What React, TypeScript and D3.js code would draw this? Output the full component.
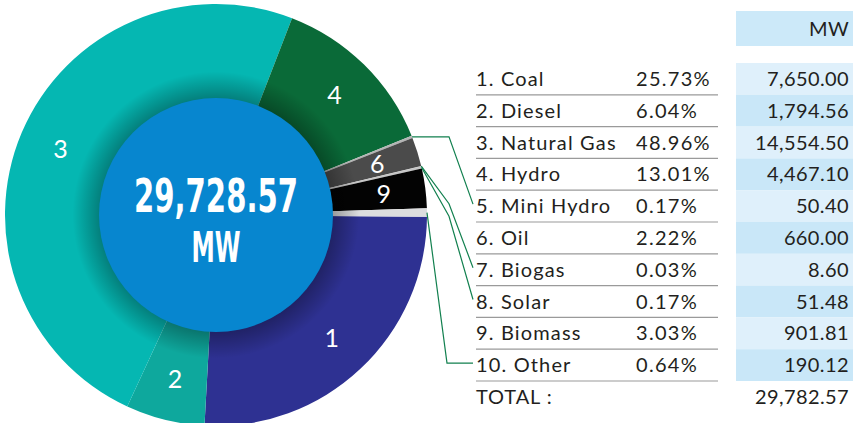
import React, { useEffect, useRef } from 'react'
import * as d3 from 'd3'

// energy mix data
const sources = ['Coal', 'Diesel', 'Natural Gas', 'Hydro', 'Mini Hydro', 'Oil', 'Biogas', 'Solar', 'Biomass', 'Other']
const shares = [25.73, 6.04, 48.96, 13.01, 0.17, 2.22, 0.03, 0.17, 3.03, 0.64]
const capacityMW = [7650.0, 1794.56, 14554.5, 4467.1, 50.4, 660.0, 8.6, 51.48, 901.81, 190.12]
const tableTotal = 29782.57
const centerTotal = 29728.57
const sliceColors = ['#2e3192', '#0ea89d', '#05b7b2', '#0a6a38', '#b4b4b4', '#4b4b4b', '#8c8c8c', '#c6c6c6', '#030303', '#dcdddf']
// which slices get a number inside, which get a leader line to the table
const labelled = [1, 2, 3, 4, 6, 9]
const leaders = [5, 7, 8, 10]

const W = 853
const H = 423

const App = () => {
  const node = useRef<SVGSVGElement | null>(null)

  useEffect(() => {
    const svg = d3.select(node.current)
    svg.selectAll('*').remove()

    const cx = 216, cy = 215
    const outerR = 211, innerR = 108, holeR = 117
    const startA = (90.5 * Math.PI) / 180

    const pie = d3.pie<number>().sort(null).value(d => d)
      .startAngle(startA).endAngle(startA + 2 * Math.PI)
    const arcs = pie(shares)
    const arc = d3.arc<d3.PieArcDatum<number>>().innerRadius(innerR).outerRadius(outerR)

    const defs = svg.append('defs')
    // gradient lives in the translated group's space, so centre it at 0,0
    const shade = defs.append('radialGradient').attr('id', 'shade')
      .attr('gradientUnits', 'userSpaceOnUse')
      .attr('cx', 0).attr('cy', 0).attr('r', outerR)
    shade.append('stop').attr('offset', 0).attr('stop-color', '#000').attr('stop-opacity', 0.35)
    shade.append('stop').attr('offset', holeR / outerR).attr('stop-color', '#000').attr('stop-opacity', 0.3)
    shade.append('stop').attr('offset', 0.68).attr('stop-color', '#000').attr('stop-opacity', 0)
    shade.append('stop').attr('offset', 1).attr('stop-color', '#000').attr('stop-opacity', 0)

    const g = svg.append('g').attr('transform', `translate(${cx},${cy})`)

    g.selectAll('path.slice').data(arcs).enter().append('path')
      .attr('class', 'slice')
      .attr('d', arc)
      .attr('fill', (d, i) => sliceColors[i])

    // soft shadow near the hole
    g.append('circle').attr('r', outerR).attr('fill', 'url(#shade)')

    g.append('circle').attr('r', holeR).attr('fill', '#0786cf')

    // numbers inside slices
    const labelArc = d3.arc<d3.PieArcDatum<number>>().innerRadius(169).outerRadius(169)
    g.selectAll('text.num').data(arcs.filter((d, i) => labelled.includes(i + 1))).enter().append('text')
      .attr('class', 'num')
      .attr('transform', d => `translate(${labelArc.centroid(d)})`)
      .attr('text-anchor', 'middle')
      .attr('dy', '0.36em')
      .attr('fill', '#fff')
      .attr('font-family', 'Lato, sans-serif')
      .attr('font-weight', 400)
      .attr('font-size', 25)
      .text(d => String(arcs.indexOf(d) + 1))

    // center total
    const fmt = d3.format(',.2f')
    g.append('text')
      .attr('y', -3)
      .attr('text-anchor', 'middle')
      .attr('fill', '#fff')
      .attr('font-family', "'DejaVu Sans Condensed', 'DejaVu Sans', sans-serif")
      .attr('font-stretch', 'condensed')
      .attr('font-weight', 'bold')
      .attr('font-size', 47)
      .attr('textLength', 164)
      .attr('lengthAdjust', 'spacingAndGlyphs')
      .text(fmt(centerTotal))
    g.append('text')
      .attr('y', 47)
      .attr('text-anchor', 'middle')
      .attr('fill', '#fff')
      .attr('font-family', "'DejaVu Sans Condensed', 'DejaVu Sans', sans-serif")
      .attr('font-stretch', 'condensed')
      .attr('font-weight', 'bold')
      .attr('font-size', 43)
      .attr('textLength', 49)
      .attr('lengthAdjust', 'spacingAndGlyphs')
      .text('MW')

    // table
    const labelX = 476, pctX = 636, valRight = 849, boxX = 736, lineEnd = 718
    const rowTop = 63, rowH = 31.8
    const y = d3.scaleBand<string>().domain(sources).range([rowTop, rowTop + rowH * sources.length])
    const textFont = 'Lato, sans-serif'
    const fs = 20
    const ink = '#231f20'

    const t = svg.append('g')
    t.append('rect').attr('x', boxX).attr('y', 11).attr('width', W - boxX).attr('height', 35).attr('fill', '#cce9f9')
    t.append('text').attr('x', valRight).attr('y', 28.5).attr('dy', '0.35em').attr('text-anchor', 'end')
      .attr('font-family', textFont).attr('font-size', fs).attr('letter-spacing', 0.4).attr('fill', ink).text('MW')

    const rows = t.selectAll('g.row').data(sources).enter().append('g').attr('class', 'row')
    rows.append('rect')
      .attr('x', boxX).attr('y', d => y(d)!).attr('width', W - boxX).attr('height', y.bandwidth())
      .attr('fill', (d, i) => (i % 2 === 0 ? '#dff0fb' : '#c9e7f8'))
    rows.append('line')
      .attr('x1', labelX).attr('x2', lineEnd)
      .attr('y1', d => y(d)! + y.bandwidth()).attr('y2', d => y(d)! + y.bandwidth())
      .attr('stroke', '#9a9a9a').attr('stroke-width', 1.2)
    const rowText = (sel: any, ls: number) => sel
      .attr('y', (d: string) => y(d)! + y.bandwidth() / 2).attr('dy', '0.35em')
      .attr('font-family', textFont).attr('font-size', fs).attr('letter-spacing', ls).attr('fill', ink)
    rowText(rows.append('text'), 1.15).attr('x', labelX).text((d: string, i: number) => `${i + 1}. ${d}`)
    rowText(rows.append('text'), 1.3).attr('x', pctX).text((d: string, i: number) => `${shares[i].toFixed(2)}%`)
    rowText(rows.append('text'), 0.4).attr('x', valRight).attr('text-anchor', 'end').text((d: string, i: number) => fmt(capacityMW[i]))

    const totalY = rowTop + rowH * sources.length + rowH / 2
    t.append('text').attr('x', labelX).attr('y', totalY).attr('dy', '0.35em')
      .attr('font-family', textFont).attr('font-size', fs).attr('letter-spacing', 0.9).attr('fill', ink).text('TOTAL :')
    t.append('text').attr('x', valRight).attr('y', totalY).attr('dy', '0.35em').attr('text-anchor', 'end')
      .attr('font-family', textFont).attr('font-size', fs).attr('letter-spacing', 0.4).attr('fill', ink).text(fmt(tableTotal))

    // leader lines from small slices to their rows
    const elbowX = 449
    const endX = 473
    leaders.forEach(n => {
      const a = arcs[n - 1]
      const mid = (a.startAngle + a.endAngle) / 2
      const sx = cx + outerR * Math.sin(mid)
      const sy = cy - outerR * Math.cos(mid)
      const ey = y(sources[n - 1])! + y.bandwidth() / 2 - 2
      let pts: [number, number][]
      if (n === 5) pts = [[sx, sy], [elbowX, sy], [endX, ey]]
      else if (n === 10) pts = [[sx, sy], [elbowX - 2, ey], [endX, ey]]
      else pts = [[sx, sy], [elbowX, sy + (ey - sy) * 0.37], [endX, ey]]
      svg.append('path')
        .attr('d', d3.line()(pts))
        .attr('fill', 'none')
        .attr('stroke', '#12804f')
        .attr('stroke-width', 1.2)
    })
  }, [])

  return (
    <svg ref={node} width={W} height={H} style={{ position: 'absolute', left: 0, top: 0, background: '#fff' }} />
  )
}

export default App
